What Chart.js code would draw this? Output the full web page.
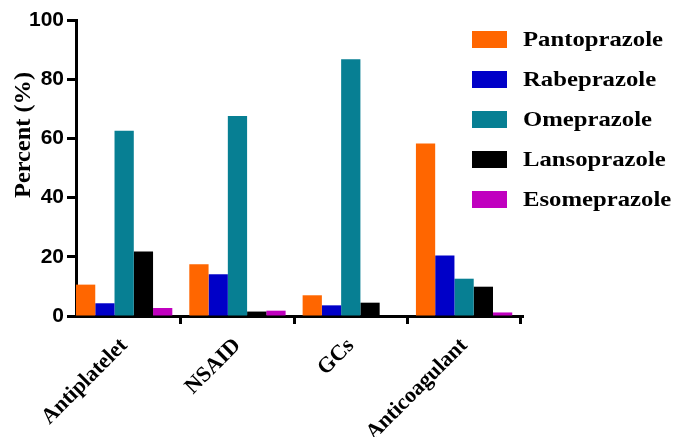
<!DOCTYPE html>
<html>
<head>
<meta charset="utf-8">
<script src="https://cdn.jsdelivr.net/npm/chart.js@4"></script>
<style>
  html, body { margin: 0; padding: 0; background: #fff; }
</style>
</head>
<body>
<canvas id="myChart" width="677" height="437"></canvas>
<script>
// Data
const categories = ['Antiplatelet', 'NSAID', 'GCs', 'Anticoagulant'];
const drugNames = ['Pantoprazole', 'Rabeprazole', 'Omeprazole', 'Lansoprazole', 'Esomeprazole'];
const pantoprazole = [10.6, 17.5, 7.0, 58.3];
const rabeprazole  = [4.3, 14.1, 3.6, 20.4];
const omeprazole   = [62.6, 67.6, 86.7, 12.6];
const lansoprazole = [21.8, 1.5, 4.5, 9.9];
const esomeprazole = [2.7, 1.8, 0, 1.2];
const yTickValues  = [0, 20, 40, 60, 80, 100];
const yTitle = 'Percent (%)';

const colors = ['#ff6600', '#0000c8', '#077f93', '#000000', '#c000bf'];
const series = [pantoprazole, rabeprazole, omeprazole, lansoprazole, esomeprazole];

// legend drawn by hand so it can sit over the right part of the plot
const sideLegend = {
  id: 'sideLegend',
  afterDraw(chart) {
    const c = chart.ctx;
    c.save();
    c.font = 'bold 21px "Liberation Serif"';
    c.textBaseline = 'middle';
    // stretch the text the way the original figure is stretched
    const sx = 140 / c.measureText(drugNames[0]).width;
    chart.data.datasets.forEach((ds, i) => {
      const y = 39.5 + i * 40;
      c.fillStyle = ds.backgroundColor;
      c.fillRect(472, y - 8.5, 35, 17);
      c.fillStyle = '#000';
      c.save();
      c.translate(523, y + 1);
      c.scale(sx, 1);
      c.fillText(ds.label, 0, 0);
      c.restore();
    });
    // y axis title
    c.font = 'bold 24px "Liberation Serif"';
    c.textAlign = 'center';
    const tw = c.measureText(yTitle).width;
    c.translate(24, 135);
    c.rotate(-Math.PI / 2);
    c.scale(126 / tw, 1);
    c.fillText(yTitle, 0, 0);
    c.restore();
  }
};

const ctx = document.getElementById('myChart');

new Chart(ctx, {
  type: 'bar',
  data: {
    labels: categories,
    datasets: series.map((vals, i) => ({
      label: drugNames[i],
      data: vals,
      backgroundColor: colors[i],
      borderWidth: 0,
      categoryPercentage: 0.85,
      barPercentage: 1.0
    }))
  },
  options: {
    responsive: false,
    animation: false,
    layout: { padding: { top: 20, right: 154, left: 0, bottom: 0 } },
    plugins: {
      legend: { display: false },
      tooltip: { enabled: false }
    },
    scales: {
      x: {
        grid: { drawOnChartArea: false, tickLength: 8, tickColor: '#000', tickWidth: 3 },
        border: { color: '#000', width: 3 },
        ticks: {
          autoSkip: false,
          maxRotation: 45,
          minRotation: 45,
          padding: 9,
          color: '#000',
          font: { family: '"Liberation Serif"', weight: 'bold', size: 22 }
        },
        // groups start right at the y axis and leave a gap at the right end
        afterBuildTicks(scale) {
          scale._startValue = -0.425;
          scale._valueRange = 3.945;
        },
        afterFit(scale) { scale.height = 121; }
      },
      y: {
        min: 0,
        max: 100,
        afterBuildTicks(scale) { scale.ticks = yTickValues.map(v => ({ value: v })); },
        grid: { drawOnChartArea: false, tickLength: 9, tickColor: '#000', tickWidth: 3 },
        border: { color: '#000', width: 3 },
        ticks: {
          padding: 3,
          color: '#000',
          font: { family: '"Liberation Sans"', weight: 'bold', size: 21 }
        },
        afterFit(scale) { scale.width = 76; }
      }
    }
  },
  plugins: [sideLegend]
});
</script>
</body>
</html>
